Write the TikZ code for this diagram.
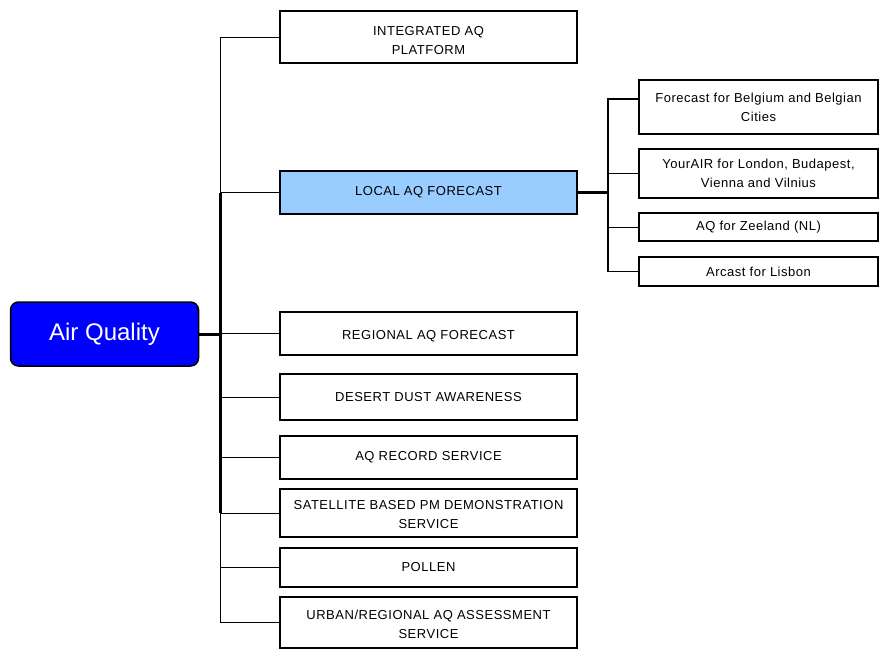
\documentclass[tikz,border=0pt]{standalone}
\usepackage{fontspec}
\setmainfont{Liberation Sans}
\newfontfamily\boxfont[LetterSpace=4]{Liberation Sans}
\definecolor{rootblue}{RGB}{0,0,255}
\definecolor{lightblue}{RGB}{153,204,255}
\newcommand\dn[2]{\raisebox{-#1}[\height][\depth]{#2}}
\begin{document}
\begin{tikzpicture}[x=1pt,y=-1pt,
  box/.style={draw=black, line width=1.5pt, fill=white, minimum width=297pt,
    inner sep=0pt, align=center, font=\boxfont\fontsize{13}{19}\selectfont},
  subbox/.style={box, minimum width=239pt},
  rootbox/.style={draw=black, line width=1.5pt, fill=rootblue, rounded corners=8pt,
    minimum width=188pt, minimum height=64pt, inner sep=0pt, text=white,
    font=\fontsize{24}{28}\selectfont},
  conn/.style={draw=black, line width=1pt},
  thickconn/.style={draw=black, line width=3pt},
  midconn/.style={draw=black, line width=1.6pt}]
\useasboundingbox (0,0) rectangle (879,649);

% root
\node[rootbox] (root) at (104.5,334) {Air Quality};

% main column
\node[box, minimum height=52pt] (integ) at (428.5,37) {\dn{3.5pt}{INTEGRATED AQ}\\\dn{3.5pt}{PLATFORM}};
\node[box, minimum height=43pt, fill=lightblue] (local) at (428.5,192.5) {LOCAL AQ FORECAST};
\node[box, minimum height=43pt] (regional) at (428.5,333.5) {\dn{3pt}{REGIONAL AQ FORECAST}};
\node[box, minimum height=46pt] (desert) at (428.5,397) {DESERT DUST AWARENESS};
\node[box, minimum height=43pt] (record) at (428.5,457.5) {AQ RECORD SERVICE};
\node[box, minimum height=48pt] (sat) at (428.5,513) {\dn{1.5pt}{SATELLITE BASED PM DEMONSTRATION}\\\dn{1.5pt}{SERVICE}};
\node[box, minimum height=39pt] (pollen) at (428.5,567.5) {POLLEN};
\node[box, minimum height=51pt] (urban) at (428.5,622.5) {\dn{2pt}{URBAN/REGIONAL AQ ASSESSMENT}\\\dn{2pt}{SERVICE}};

% sub column
\node[subbox, minimum height=54pt] (belg) at (758.5,107) {Forecast for Belgium and Belgian\\Cities};
\node[subbox, minimum height=49pt] (yourair) at (758.5,173.5) {YourAIR for London, Budapest,\\Vienna and Vilnius};
\node[subbox, minimum height=28pt] (zeeland) at (758.5,227) {AQ for Zeeland (NL)};
\node[subbox, minimum height=29pt] (arcast) at (758.5,271.5) {Arcast for Lisbon};

% trunk
\coordinate (tx) at (220.5,0);
\coordinate (sx) at (608,0);

\draw[conn] (integ.west) -| (tx |- local.west);
\draw[thickconn] (tx |- local.west) -- (tx |- sat.west);
\draw[conn] (tx |- sat.west) |- (urban.west);
\draw[thickconn] (root.east) -- (tx |- root.east);
\foreach \n in {local,regional,desert,record,sat,pollen}
  \draw[conn] (tx |- \n.west) -- (\n.west);

% sub tree
\coordinate (bc) at ([yshift=8pt]belg.west);
\draw[thickconn] (local.east) -- (sx |- local.east);
\draw[midconn] (bc) -| (sx |- arcast.west) -- (arcast.west);
\draw[conn] (sx |- yourair.west) -- (yourair.west);
\draw[conn] (sx |- zeeland.west) -- (zeeland.west);
\end{tikzpicture}
\end{document}
